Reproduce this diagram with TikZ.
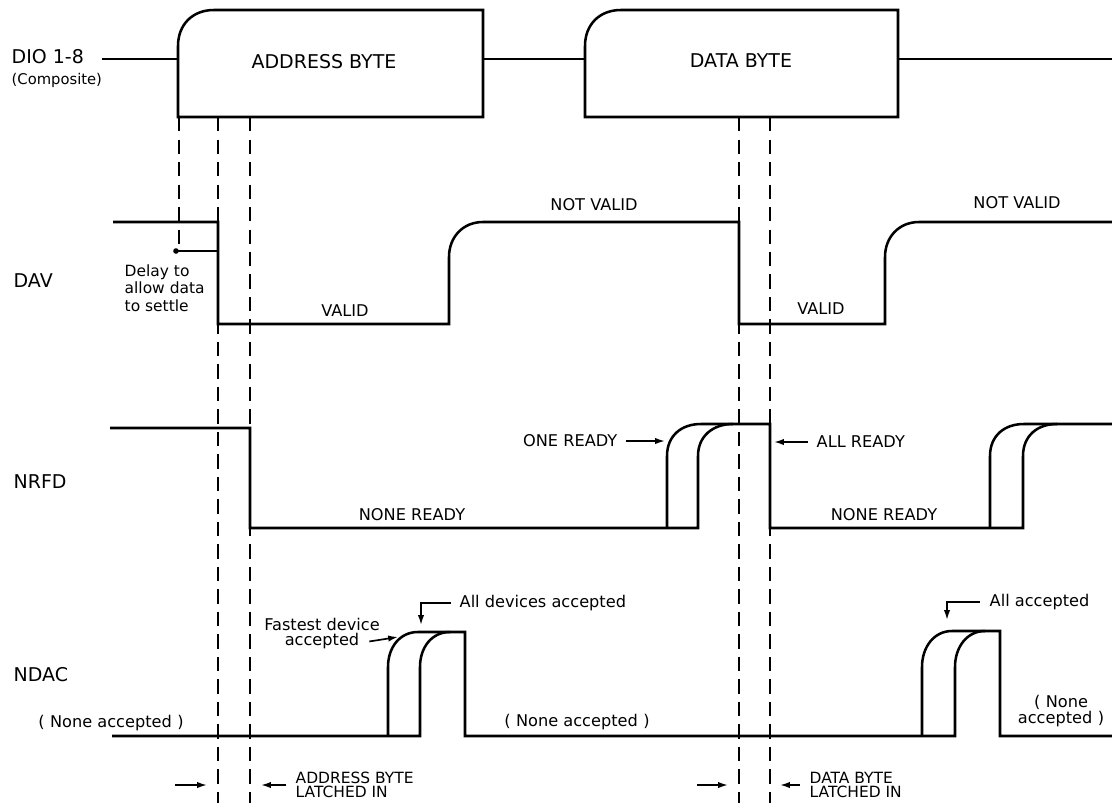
\documentclass[tikz,border=0pt]{standalone}
\usepackage{fontspec}
\setmainfont{DejaVu Sans}
\usetikzlibrary{positioning}
\usetikzlibrary{arrows.meta}

\begin{document}
\begin{tikzpicture}[x=0.025cm, y=-0.025cm, >={Latex[length=7pt,width=4.5pt]},
    senal/.style={line width=1.8pt},
    guia/.style={line width=1.4pt, dash pattern=on 10pt off 6pt},
    flecha/.style={->, line width=1.2pt},
    grande/.style={font=\fontsize{13.5}{15}\selectfont, inner sep=1pt},
    etiq/.style={font=\fontsize{11.5}{13}\selectfont, inner sep=1pt},
    etiqp/.style={font=\fontsize{11.5}{9.5}\selectfont, inner sep=1pt},
    etiqb/.style={font=\fontsize{11}{9.5}\selectfont, inner sep=1pt}]

    \useasboundingbox (0,0) rectangle (1112,803);

    % Nombres de las lineas
    \node[grande, anchor=west] (dio) at (10,57) {DIO 1-8};
    \node[etiqp, anchor=west, font=\fontsize{10.5}{12}\selectfont] (comp) at (10,80) {(Composite)};
    \node[grande, anchor=west] (dav) at (12,281) {DAV};
    \node[grande, anchor=west] (nrfd) at (12,482) {NRFD};
    \node[grande, anchor=west] (ndac) at (12,675) {NDAC};

    % Bus DIO
    \draw[senal] (102,59) -- (178,59);
    \draw[senal] (178,117) -- (178,46) .. controls (178,25) and (192,10) .. (214,10) -- (483,10) -- (483,117) -- cycle;
    \draw[senal] (483,59) -- (585,59);
    \draw[senal] (585,117) -- (585,46) .. controls (585,25) and (599,10) .. (621,10) -- (898,10) -- (898,117) -- cycle;
    \draw[senal] (898,59) -- (1112,59);
    \node[grande] (addr) at (324,62) {ADDRESS BYTE};
    \node[grande] (data) at (741,61) {DATA BYTE};

    % Lineas de referencia
    \draw[guia] (179,117) -- (179,251);
    \draw[guia] (218,117) -- (218,803);
    \draw[guia] (250,117) -- (250,803);
    \draw[guia] (739,117) -- (739,803);
    \draw[guia] (770,117) -- (770,803);

    % DAV
    \draw[senal] (113,222) -- (218,222) -- (218,324) -- (449,324) -- (449,257) .. controls (449,237) and (463,222) .. (483,222) -- (739,222) -- (739,324) -- (885,324) -- (885,257) .. controls (885,237) and (899,222) .. (919,222) -- (1112,222);
    \draw[senal] (176,251) -- (218,251);
    \fill (176,251) circle (2pt);
    \node[etiqp, align=left, anchor=west, font=\fontsize{11}{12.3}\selectfont] (delay) at (123,288) {Delay to\\allow data\\to settle};
    \node[etiq] (valid1) at (345,311) {VALID};
    \node[etiq] (nvalid1) at (594,205) {NOT VALID};
    \node[etiq] (valid2) at (821,309) {VALID};
    \node[etiq] (nvalid2) at (1017,203) {NOT VALID};

    % NRFD
    \draw[senal] (110,428) -- (250,428) -- (250,528) -- (698,528) -- (698,456) .. controls (698,436) and (713,424) .. (733,424) -- (770,424) -- (770,528) -- (1023,528) -- (1023,456) .. controls (1023,436) and (1037,424) .. (1057,424) -- (1112,424);
    \draw[senal] (667,528) -- (667,456) .. controls (667,436) and (681,424) .. (701,424) -- (733,424);
    \draw[senal] (990,528) -- (990,456) .. controls (990,436) and (1004,424) .. (1024,424) -- (1057,424);
    \node[etiq, anchor=east] (one) at (619,441) {ONE READY};
    \coordinate (uno) at (665,441);
    \draw[flecha] ([xshift=5pt]one.east) -- (uno);
    \node[etiq, anchor=west] (all) at (815,442) {ALL READY};
    \coordinate (todos) at (774,442);
    \draw[flecha] ([xshift=-5pt]all.west) -- (todos);
    \node[etiq] (none1) at (412,515) {NONE READY};
    \node[etiq] (none2) at (884,515) {NONE READY};

    % NDAC
    \draw[senal] (112,736) -- (420,736) -- (420,667) .. controls (420,647) and (432,632) .. (450,632) -- (465,632) -- (465,736) -- (955,736) -- (955,667) .. controls (955,647) and (967,631) .. (985,631) -- (1000,631) -- (1000,736) -- (1112,736);
    \draw[senal] (388,736) -- (388,667) .. controls (388,647) and (400,632) .. (418,632) -- (450,632);
    \draw[senal] (922,736) -- (922,667) .. controls (922,647) and (934,631) .. (952,631) -- (985,631);
    \node[etiqp] (fast) at (322,624) {Fastest device};
    \node[etiqp, below=0pt of fast] (acep) {accepted};
    \coordinate (rapido) at (398,637);
    \draw[flecha] ([xshift=6pt]acep.east) -- (rapido);
    \node[etiqp, anchor=west] (alldev) at (458,603) {All devices accepted};
    \coordinate (esq1) at (421,603);
    \coordinate (punta1) at (421,625);
    \draw[flecha] ([xshift=-5pt]alldev.west) -- (esq1) -- (punta1);
    \node[etiqp, anchor=west] (allac) at (988,602) {All accepted};
    \coordinate (esq2) at (947,602);
    \coordinate (punta2) at (947,620);
    \draw[flecha] ([xshift=-6pt]allac.west) -- (esq2) -- (punta2);
    \node[etiqp] (nacc1) at (111,723) {(\,\,None accepted\,\,)};
    \node[etiqp] (nacc2) at (577,722) {(\,\,None accepted\,\,)};
    \node[etiqp, align=center] (nacc3) at (1061,711) {(\,\,None\\accepted\,\,)};

    % Byte capturado
    \coordinate (izq1) at (175,785);
    \coordinate (der1) at (207,785);
    \draw[flecha] (izq1) -- (der1);
    \node[etiqb, align=left, anchor=west] (latch1) at (294,785) {ADDRESS BYTE\\LATCHED IN};
    \coordinate (tope1) at (261,785);
    \draw[flecha] ([xshift=-6pt]latch1.west) -- (tope1);
    \coordinate (izq2) at (697,785);
    \coordinate (der2) at (728,785);
    \draw[flecha] (izq2) -- (der2);
    \node[etiqb, align=left, anchor=west] (latch2) at (808,785) {DATA BYTE\\LATCHED IN};
    \coordinate (tope2) at (780,785);
    \draw[flecha] ([xshift=-6pt]latch2.west) -- (tope2);
\end{tikzpicture}
\end{document}
